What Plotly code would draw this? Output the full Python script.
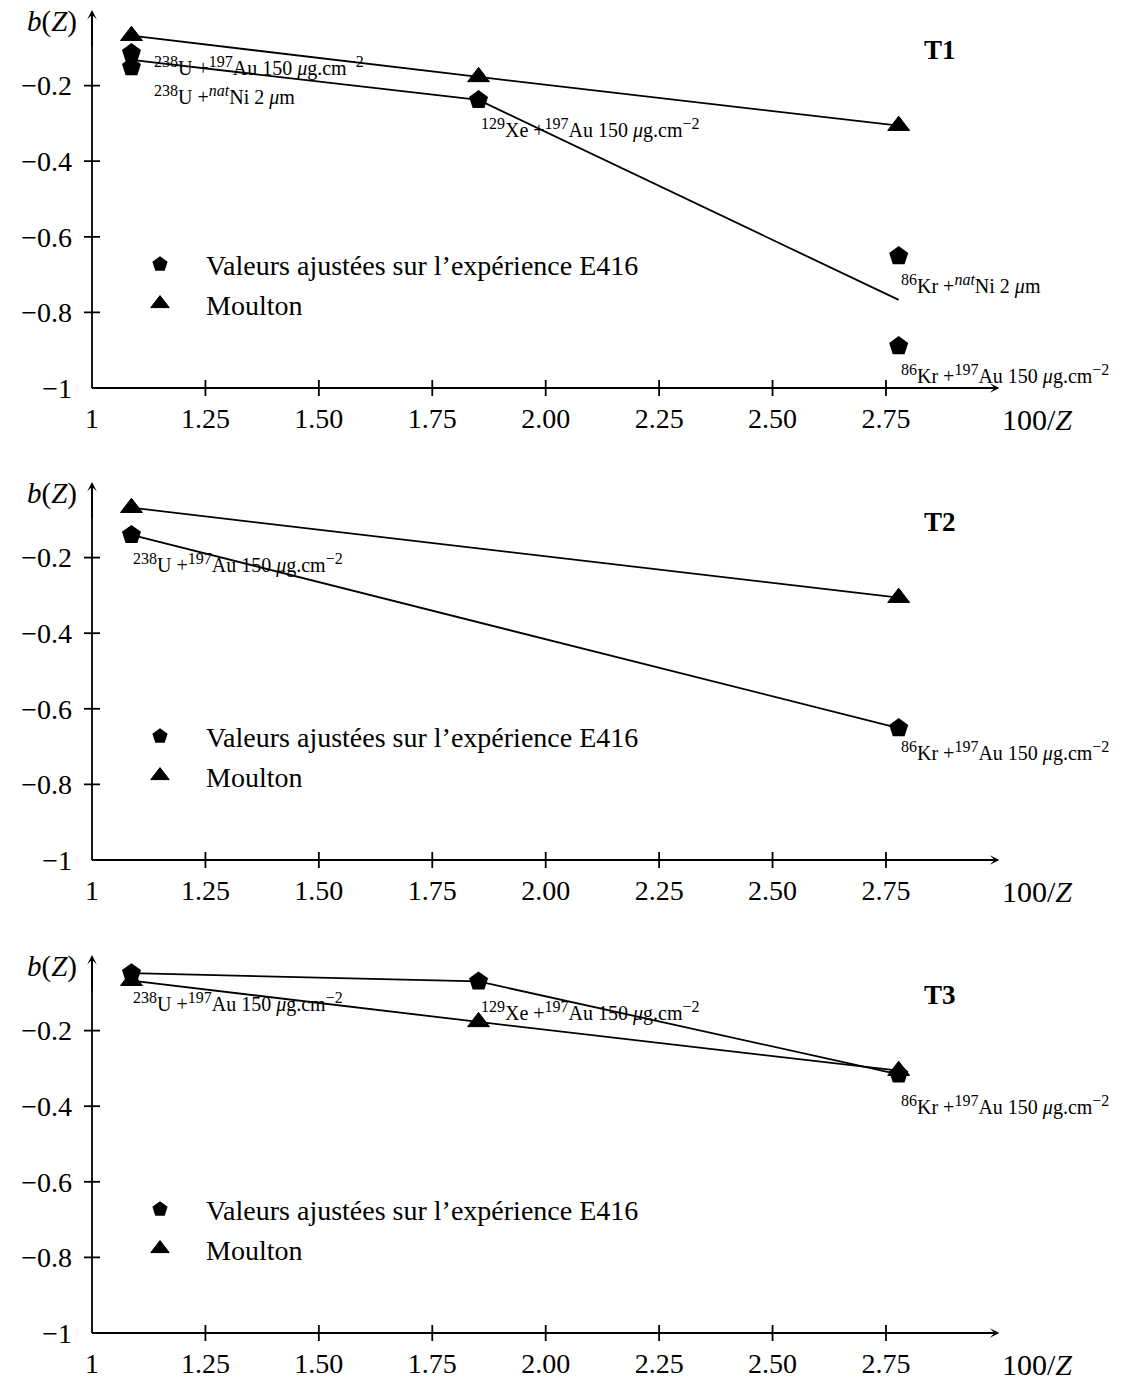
import plotly.graph_objects as go

# page body adds an 8px margin, so the figure is 8px smaller than the window
W, H = 1136, 1372
FONT = "Liberation Serif"

# x positions (100/Z) : U, Xe, Kr
x_three = [1.087, 1.852, 2.778]
x_two = [1.087, 2.778]


def sup(t):
    return '<sup><span style="font-size:16px">' + t + '</span></sup>'


AU = "Au 150 <i>μ</i>g.cm" + sup("−2")
NI = "Ni 2 <i>μ</i>m"

# ---------------- T1 ----------------
t1_moulton_x = x_three
t1_moulton_y = [-0.068, -0.177, -0.306]
t1_e416_x = [1.087, 1.087, 1.852, 2.778, 2.778]
t1_e416_y = [-0.114, -0.151, -0.238, -0.651, -0.889]
t1_fit_x = x_three
t1_fit_y = [-0.132, -0.238, -0.767]
t1_labels = [
    sup("238") + "U +" + sup("197") + AU,
    sup("238") + "U +" + sup("<i>nat</i>") + NI,
    sup("129") + "Xe +" + sup("197") + AU,
    sup("86") + "Kr +" + sup("<i>nat</i>") + NI,
    sup("86") + "Kr +" + sup("197") + AU,
]

# ---------------- T2 ----------------
t2_moulton_x = x_two
t2_moulton_y = [-0.068, -0.306]
t2_e416_x = x_two
t2_e416_y = [-0.140, -0.651]
t2_labels = [
    sup("238") + "U +" + sup("197") + AU,
    sup("86") + "Kr +" + sup("197") + AU,
]

# ---------------- T3 ----------------
t3_moulton_x = x_three
t3_moulton_y = [-0.068, -0.177, -0.306]
t3_e416_x = x_three
t3_e416_y = [-0.048, -0.070, -0.316]
t3_labels = [
    sup("238") + "U +" + sup("197") + AU,
    sup("129") + "Xe +" + sup("197") + AU,
    sup("86") + "Kr +" + sup("197") + AU,
]

x_ticks = [1, 1.25, 1.5, 1.75, 2.0, 2.25, 2.5, 2.75]
x_ticktext = ["1", "1.25", "1.50", "1.75", "2.00", "2.25", "2.50", "2.75"]
y_ticks = [-1, -0.8, -0.6, -0.4, -0.2]
y_ticktext = ["−1", "−0.8", "−0.6", "−0.4", "−0.2"]

panels = [
    dict(name="T1", mx=t1_moulton_x, my=t1_moulton_y, ex=t1_e416_x, ey=t1_e416_y,
         fx=t1_fit_x, fy=t1_fit_y, labels=t1_labels,
         shifts=[(21, -13), (21, -28), (0, -29), (0, -28), (0, -28)]),
    dict(name="T2", mx=t2_moulton_x, my=t2_moulton_y, ex=t2_e416_x, ey=t2_e416_y,
         fx=t2_e416_x, fy=t2_e416_y, labels=t2_labels,
         shifts=[(0, -29), (0, -23)]),
    dict(name="T3", mx=t3_moulton_x, my=t3_moulton_y, ex=t3_e416_x, ey=t3_e416_y,
         fx=t3_e416_x, fy=t3_e416_y, labels=t3_labels,
         shifts=[(0, -29), (0, -30), (0, -31)]),
]

# layout geometry (pixels, figure coordinates)
X0 = 84          # pixel column of x = 1
XS = 453.7       # pixels per x unit
YS = 378         # pixels per y unit
ORIG = [380, 852, 1325]   # pixel row of y = -1 in each panel
Y_LO, Y_HI = -1.1, 0.003
x_range = [1 - X0 / XS, 1 + (W - X0) / XS]

line_w = 1.8
fig = go.Figure()
shapes, annotations = [], []
lay = {}

for i, p in enumerate(panels):
    s = "" if i == 0 else str(i + 1)
    xa, ya = "x" + s, "y" + s
    leg = "legend" + s
    o = ORIG[i]

    # lines
    fig.add_trace(go.Scatter(x=p["fx"], y=p["fy"], mode="lines", xaxis=xa, yaxis=ya,
                             line=dict(color="black", width=line_w), showlegend=False))
    fig.add_trace(go.Scatter(x=p["mx"], y=p["my"], mode="lines", xaxis=xa, yaxis=ya,
                             line=dict(color="black", width=line_w), showlegend=False))
    # markers
    fig.add_trace(go.Scatter(x=p["ex"], y=p["ey"], mode="markers", xaxis=xa, yaxis=ya,
                             name="Valeurs ajustées sur l’expérience E416", legend=leg,
                             marker=dict(symbol="pentagon", size=20, color="black"),
                             cliponaxis=False))
    fig.add_trace(go.Scatter(x=p["mx"], y=p["my"], mode="markers", xaxis=xa, yaxis=ya,
                             name="Moulton", legend=leg,
                             marker=dict(symbol="triangle-up", size=19, color="black",
                                         line=dict(color="black", width=1)),
                             cliponaxis=False))

    dom_lo = 1 - (o - (Y_LO + 1) * YS) / H
    dom_hi = min(1.0, 1 - (o - (Y_HI + 1) * YS) / H)
    lay["xaxis" + s] = dict(range=x_range, domain=[0, 1], anchor="free", position=1 - o / H,
                            tickvals=x_ticks, ticktext=x_ticktext, ticks="",
                            showgrid=False, zeroline=False, showline=False,
                            tickfont=dict(size=28, family=FONT, color="black"),
                            ticklabelstandoff=11)
    lay["yaxis" + s] = dict(range=[Y_LO, Y_HI], domain=[dom_lo, dom_hi],
                            anchor="free", position=X0 / W,
                            tickvals=y_ticks, ticktext=y_ticktext, ticks="",
                            showgrid=False, zeroline=False, showline=False,
                            tickfont=dict(size=28, family=FONT, color="black"),
                            ticklabelstandoff=20)
    lay[leg] = dict(x=106 / W, y=1 - (o - 104) / H, xanchor="left", yanchor="middle",
                    font=dict(size=28, family=FONT, color="black"), bgcolor="rgba(0,0,0,0)",
                    itemwidth=82, tracegroupgap=0)

    # axis lines and arrow heads
    shapes.append(dict(type="line", xref=xa, yref=ya, x0=1, y0=-1, x1=2.99, y1=-1,
                       line=dict(color="black", width=line_w)))
    shapes.append(dict(type="line", xref=xa, yref=ya, x0=1, y0=-1, x1=1, y1=-0.01,
                       line=dict(color="black", width=line_w)))
    annotations.append(dict(xref=xa, yref=ya, axref=xa, ayref=ya, x=3.0, y=-1, ax=2.9, ay=-1,
                            text="", showarrow=True, arrowhead=3, arrowsize=1,
                            arrowwidth=1.6, arrowcolor="black"))
    annotations.append(dict(xref=xa, yref=ya, axref=xa, ayref=ya, x=1, y=0.0, ax=1, ay=-0.1,
                            text="", showarrow=True, arrowhead=3, arrowsize=1,
                            arrowwidth=1.6, arrowcolor="black"))
    # tick marks crossing the axes
    for t in x_ticks[1:]:
        shapes.append(dict(type="line", xref=xa, yref=ya, ysizemode="pixel", yanchor=-1,
                           x0=t, x1=t, y0=-8, y1=8, line=dict(color="black", width=line_w)))
    for t in y_ticks[1:]:
        shapes.append(dict(type="line", xref=xa, yref=ya, xsizemode="pixel", xanchor=1,
                           x0=-8, x1=8, y0=t, y1=t, line=dict(color="black", width=line_w)))

    # axis titles and panel name
    annotations.append(dict(xref=xa, yref=ya, x=1, y=-0.03, xshift=-13, xanchor="right",
                            yanchor="middle", showarrow=False, text="<i>b</i>(<i>Z</i>)",
                            font=dict(size=29, family=FONT, color="black")))
    annotations.append(dict(xref=xa, yref=ya, x=3.083, y=-1, yshift=-32, xanchor="center",
                            yanchor="middle", showarrow=False, text="100/<i>Z</i>",
                            font=dict(size=30, family=FONT, color="black")))
    annotations.append(dict(xref=xa, yref=ya, x=2.87, y=-0.105, xanchor="center",
                            yanchor="middle", showarrow=False, text="<b>" + p["name"] + "</b>",
                            font=dict(size=27, family=FONT, color="black")))

    # point labels
    for k, txt in enumerate(p["labels"]):
        dx, dy = p["shifts"][k]
        annotations.append(dict(xref=xa, yref=ya, x=p["ex"][k], y=p["ey"][k],
                                xshift=dx, yshift=dy, xanchor="left", yanchor="middle",
                                showarrow=False, text=txt,
                                font=dict(size=20, family=FONT, color="black")))

fig.update_layout(**lay)
fig.update_layout(
    width=W, height=H,
    margin=dict(l=0, r=0, t=0, b=0),
    plot_bgcolor="white", paper_bgcolor="white",
    font=dict(family=FONT, color="black"),
    shapes=shapes, annotations=annotations,
)

fig.write_html("out.html")
